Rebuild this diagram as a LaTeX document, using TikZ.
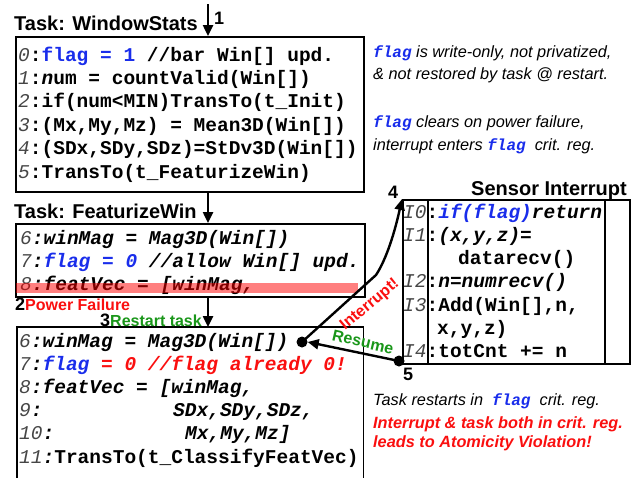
\documentclass[tikz,border=0pt]{standalone}
\usepackage{fontspec}
\setmainfont{Liberation Sans}
\setmonofont{Liberation Mono}
\usetikzlibrary{arrows.meta}
\definecolor{cblue}{RGB}{25,45,235}
\definecolor{cred}{RGB}{250,15,15}
\definecolor{cgreen}{RGB}{25,150,25}
\definecolor{lnumc}{RGB}{70,70,70}
\newcommand\codefont{\fontsize{19.5}{23}\selectfont\ttfamily\bfseries}
\newcommand\Ln[1]{{\mdseries\itshape\color{lnumc}#1}}
\newcommand\flagnote{{\fontsize{16}{18}\selectfont\ttfamily\bfseries\itshape\color{cblue}flag}}
\begin{document}
\begin{tikzpicture}[x=1pt,y=-1pt,
  boxs/.style={draw, line width=1.8, inner sep=0, anchor=north west},
  code/.style={anchor=base west, inner sep=0, font=\codefont},
  icode/.style={anchor=base west, inner sep=0, font=\codefont\itshape},
  note/.style={anchor=base west, inner sep=0, font=\fontsize{16.3}{18}\selectfont\itshape},
  rnote/.style={anchor=base west, inner sep=0, text=cred, font=\fontsize{16.3}{18}\selectfont\bfseries\itshape},
  head/.style={anchor=base west, inner sep=0, font=\fontsize{20}{22}\selectfont\bfseries},
  num/.style={anchor=base west, inner sep=0, font=\fontsize{18}{20}\selectfont\bfseries},
  arr/.style={line width=2.4, -{Triangle[length=11pt,width=10pt]}},
  dot/.style={circle, fill=black, inner sep=0, minimum size=11}]
\useasboundingbox (0,0) rectangle (634,477);

% headings
\node[head] (h1) at (14,30) {Task: WindowStats};
\node[head] (h2) at (14,218) {Task: FeaturizeWin};
\node[head, anchor=base east] (h3) at (627,195) {Sensor Interrupt};

% boxes
\node[boxs, minimum width=348, minimum height=155] (b1) at (15,36) {};
\node[boxs, minimum width=349, minimum height=73] (b2) at (15,223) {};
\node[inner sep=0, anchor=north west, minimum width=346, minimum height=152] (b3) at (17,327) {};
\draw[line width=1.8] (b3.south west) -- (b3.north west) -- (b3.north east) -- (b3.south east);
\node[boxs, minimum width=227, minimum height=164] (ib) at (402,199) {};
\draw[line width=1.8] ([xshift=26]ib.north west) -- ([xshift=26]ib.south west);
\draw[line width=1.8] ([xshift=-26]ib.north east) -- ([xshift=-26]ib.south east);

% box 1 code
\node[code] (l0) at (18,61) {\Ln{0}:{\color{cblue}flag = 1} //bar Win[] upd.};
\node[code] (l1) at (18,84.4) {\Ln{1}:{\itshape n}um = countValid(Win[])};
\node[code] (l2) at (18,107.8) {\Ln{2}:if(num<MIN)TransTo(t\_Init)};
\node[code] (l3) at (18,131.2) {\Ln{3}:(Mx,My,Mz) = Mean3D(Win[])};
\node[code] (l4) at (18,154.6) {\Ln{4}:(SDx,SDy,SDz)=StDv3D(Win[])};
\node[code] (l5) at (18,178) {\Ln{5}:TransTo(t\_FeaturizeWin)};

% box 2 code
\node[icode] (m6) at (20,244) {\Ln{6}:winMag = Mag3D(Win[])};
\node[icode] (m7) at (20,267) {\Ln{7}:{\color{cblue}flag = 0} //allow Win[] upd.};
\node[icode] (m8) at (20,290) {\Ln{8}:featVec = [winMag,};
\fill[red, opacity=0.5] (16,283) rectangle (358,293);

% box 3 code
\node[icode] (r6) at (19,347) {\Ln{6}:winMag = Mag3D(Win[])};
\node[icode] (r7) at (19,370.2) {\Ln{7}:{\color{cblue}flag} {\color{cred}= 0 //flag already 0!}};
\node[icode] (r8) at (19,393.4) {\Ln{8}:featVec = [winMag,};
\node[icode] (r9) at (19,416.6) {\Ln{9}:};
\node[icode] (r9b) at (173,416.6) {SDx,SDy,SDz,};
\node[icode] (r10) at (19,439.8) {\Ln{10}:};
\node[icode] (r10b) at (185,439.8) {Mx,My,Mz]};
\node[icode] (r11) at (19,463) {\Ln{11}:{\upshape TransTo(t\_ClassifyFeatVec)}};

% interrupt code
\node[code] (i0) at (403,218) {\Ln{I0}:{\itshape\color{cblue}if(flag)}{\itshape return}};
\node[code] (i1) at (403,241) {\Ln{I1}:{\itshape (x,y,z)=}};
\node[code] (i1b) at (458,264) {datarecv()};
\node[code] (i2) at (403,287) {\Ln{I2}:{\itshape n=numrecv()}};
\node[code] (i3) at (403,311) {\Ln{I3}:Add(Win[],n,};
\node[code] (i3b) at (437,334) {x,y,z)};
\node[code] (i4) at (403,357) {\Ln{I4}:totCnt += n};

% notes
\node[note] (n1) at (373,57) {\flagnote{} is write-only, not privatized,};
\node[note] (n2) at (373,79) {\& not restored by task @ restart.};
\node[note] (n3) at (373,127) {\flagnote{} clears on power failure,};
\node[note] (n4) at (373,150) {interrupt enters \flagnote\ \ crit. reg.};
\node[note] (n5) at (373,405) {Task restarts in\ \ \flagnote\ \ crit. reg.};
\node[rnote] (n6) at (373,428) {Interrupt \& task both in crit. reg.};
\node[rnote] (n7) at (373,447) {leads to Atomicity Violation!};

% step labels
\node[num] (k1) at (214,24) {1};
\node[num] (k2) at (15,310) {2{\color{cred}\fontsize{16}{18}\selectfont Power Failure}};
\node[num] (k3) at (100,326) {3{\color{cgreen}\fontsize{16}{18}\selectfont Restart task}};
\node[num] (k4) at (388,198) {4};
\node[num] (k5) at (403,380) {5};

% vertical arrows
\coordinate (top) at (208,4);
\draw[arr] (top) -- (top |- b1.north);
\draw[arr] (b1.south -| top) -- (b2.north -| top);
\draw[arr] (b2.south -| top) -- (b3.north -| top);

% interrupt / resume
\node[dot] (d1) at (302,342) {};
\node[dot] (d2) at (399,361) {};
\coordinate (bend) at (376,275);
\draw[arr] (d1.center) -- (bend) .. controls (384,263) and (393,240) .. (ib.north west);
\draw[arr] (d2.center) -- (d1.east);
\node[inner sep=0, rotate=40, text=cred, font=\fontsize{16}{18}\selectfont\bfseries] (lint) at (370,305) {Interrupt!};
\node[inner sep=0, rotate=-13, text=cgreen, font=\fontsize{16}{18}\selectfont\bfseries] (lres) at (363,342) {Resume};
\end{tikzpicture}
\end{document}
